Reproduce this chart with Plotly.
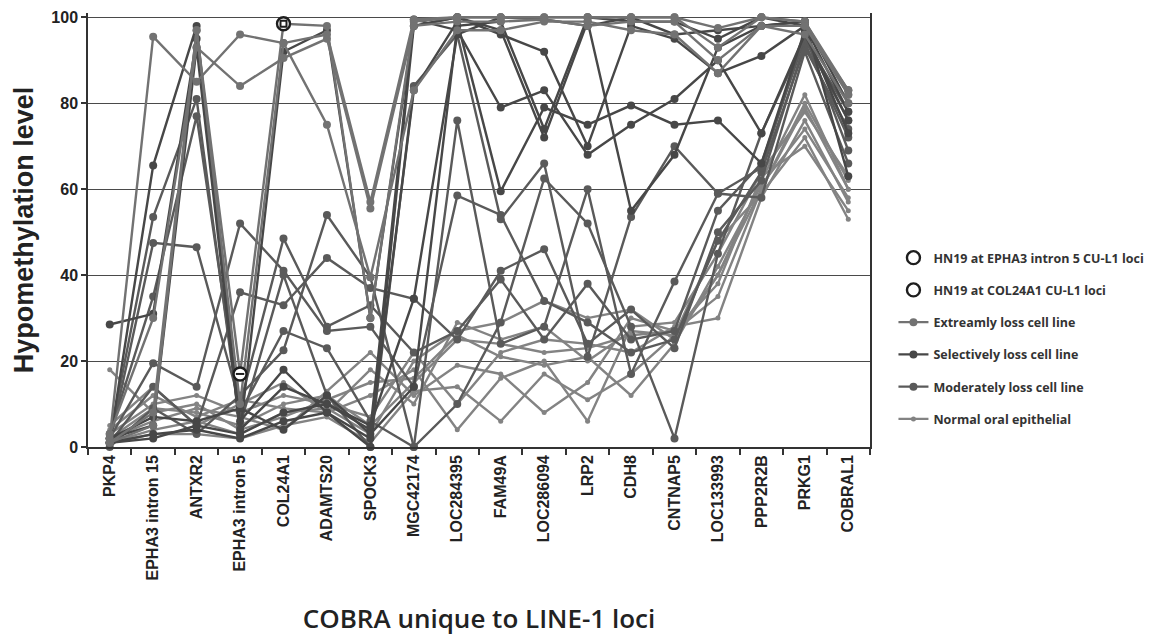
import plotly.graph_objects as go

# COBRA loci (x categories)
loci = ["PKP4", "EPHA3 intron 15", "ANTXR2", "EPHA3 intron 5", "COL24A1",
        "ADAMTS20", "SPOCK3", "MGC42174", "LOC284395", "FAM49A", "LOC286094",
        "LRP2", "CDH8", "CNTNAP5", "LOC133993", "PPP2R2B", "PRKG1", "COBRAL1"]

y_ticks = [0, 20, 40, 60, 80, 100]

# Hypomethylation levels per sample, one value per locus
hn19 = [1, 5, 97, 17, 98.5, 98, 30, 99, 100, 100, 100, 100, 100, 100, 97.5, 100, 99, 82]
ext_a = [2, 95.5, 85, 96, 94, 96, 57, 99.5, 100, 100, 100, 100, 100, 100, 93, 100, 99, 83]
ext_b = [3, 30, 93, 84, 90.5, 95, 55.5, 98, 99, 99, 99.5, 98, 99, 99, 90, 98, 98, 82]
ext_c = [1, 8, 97, 10, 94, 75, 39.5, 83, 97, 97, 99, 99, 97, 96, 87, 98, 96, 80]

sel_a = [28.5, 31, 95, 6, 18, 8, 2, 83, 99, 59.5, 79, 75, 79.5, 75, 76, 66, 97, 73]
sel_b = [1, 65.5, 98, 3, 92, 97, 30, 98, 100, 96, 92, 70, 98, 95, 87, 91, 98, 78]
sel_c = [2, 5, 93, 4, 14, 10, 4, 99.5, 97, 79, 83, 68, 75, 81, 90, 73, 96, 76]
sel_d = [1, 3, 4, 2, 6, 8, 0, 98, 100, 97, 72, 99, 55, 68, 93, 98, 99, 80]
sel_e = [2, 7, 6, 9, 4, 12, 3, 14, 98, 99, 74, 100, 99, 99, 95, 100, 98, 83]
sel_f = [1, 2, 5, 3, 8, 10, 5, 34.5, 96, 100, 99.5, 98, 100, 96, 97, 98, 99, 63]

mod_a = [1, 47.5, 46.5, 10, 48.5, 28, 33, 22, 27, 39, 25, 38, 25, 27, 55, 66, 95, 78]
mod_b = [2, 19.5, 14, 52, 41, 27, 28, 14, 58.5, 54, 34, 29, 22, 25, 48, 64, 93, 74]
mod_c = [1, 14, 5, 36, 33, 44, 37, 34.5, 25, 41, 46, 24, 32, 23, 50, 62, 94, 72]
mod_d = [3, 35, 77, 8, 27, 23, 6, 0, 76, 24, 28, 60, 17, 38.5, 59, 65, 96, 69]
mod_e = [0, 9, 3, 12, 22.5, 54, 39.5, 0, 10, 29, 62.5, 52, 28, 2, 45, 73, 95, 76]
mod_f = [2, 53.5, 81, 5, 40, 12, 0, 84, 96, 53, 66, 21, 53.5, 70, 59, 58, 92, 66]

nor_a = [2, 9, 8, 5, 10, 12, 5, 15, 25, 24, 22, 23, 26, 27, 35, 60, 80, 62]
nor_b = [1, 4, 6, 3, 8, 9, 3, 20, 27, 29, 34, 30, 32, 25, 40, 62, 82, 60]
nor_c = [3, 10, 12, 8, 12, 10, 7, 22, 10, 22, 25, 24, 22, 28, 30, 58, 76, 57]
nor_d = [5, 14, 5, 10, 15, 8, 12, 18, 4, 16, 20, 6, 28, 29, 45, 64, 78, 63]
nor_e = [1, 3, 3, 2, 5, 7, 1, 13, 14, 6, 17, 11, 17, 26, 48, 59, 72, 53]
nor_f = [18, 8, 10, 4, 7, 11, 15, 16, 26, 21, 19, 21, 12, 24, 42, 61, 74, 58]
nor_g = [2, 6, 9, 7, 4, 13, 22, 12, 19, 17, 8, 15, 30, 27, 38, 63, 70, 55]
nor_h = [4, 12, 7, 11, 9, 8, 18, 10, 29, 25, 28, 20, 27, 26, 40, 60, 79, 60]

groups = [
    # (legend label, series, line colour, marker size, legend rank)
    ("Normal oral epithelial", [nor_a, nor_b, nor_c, nor_d, nor_e, nor_f, nor_g, nor_h], "#838383", 5, 6),
    ("Moderately loss cell line", [mod_a, mod_b, mod_c, mod_d, mod_e, mod_f], "#5a5a5a", 8, 5),
    ("Selectively loss cell line", [sel_a, sel_b, sel_c, sel_d, sel_e, sel_f], "#474747", 8, 4),
    ("Extreamly loss cell line", [hn19, ext_a, ext_b, ext_c], "#727272", 8, 3),
]

fig = go.Figure()

for label, series, color, msize, rank in groups:
    for i, vals in enumerate(series):
        fig.add_trace(go.Scatter(
            x=loci, y=vals, mode="lines+markers",
            name=label, legendgroup=label, showlegend=(i == 0), legendrank=rank,
            line=dict(color=color, width=2.4),
            marker=dict(color=color, size=msize, symbol="circle"),
            cliponaxis=False,
        ))

# HN19 highlighted at two loci
i_epha3 = loci.index("EPHA3 intron 5")
i_col24 = loci.index("COL24A1")
highlights = [
    ("HN19 at EPHA3 intron 5 CU-L1 loci", i_epha3, "line-ew", 1),
    ("HN19 at COL24A1 CU-L1 loci", i_col24, "square-open", 2),
]
for label, idx, inner, rank in highlights:
    fig.add_trace(go.Scatter(
        x=[loci[idx]], y=[hn19[idx]], mode="markers", name=label,
        legendgroup=label, legendrank=rank,
        marker=dict(color="white", size=13, symbol="circle",
                    line=dict(color="#1e1e1e", width=2.4)),
        cliponaxis=False,
    ))
    fig.add_trace(go.Scatter(
        x=[loci[idx]], y=[hn19[idx]], mode="markers", showlegend=False,
        marker=dict(color="#1e1e1e", size=6, symbol=inner,
                    line=dict(color="#1e1e1e", width=2)),
        cliponaxis=False,
    ))

fig.update_layout(
    width=1164, height=637,
    margin=dict(l=88, r=294, t=13, b=190),
    plot_bgcolor="white", paper_bgcolor="white",
    font=dict(family="Liberation Sans, Arial, sans-serif", color="#222"),
    legend=dict(
        x=1.03, xanchor="left", y=0.47, yanchor="top",
        traceorder="grouped", tracegroupgap=13,
        font=dict(family="Open Sans", size=12.5, color="#333", weight=700),
        bgcolor="rgba(0,0,0,0)",
    ),
)

fig.update_xaxes(
    type="category", categoryorder="array", categoryarray=loci,
    range=[-0.5, len(loci) - 0.5],
    tickangle=-90, tickson="boundaries", ticks="outside", ticklen=6,
    tickcolor="#333", tickwidth=1.5,
    tickfont=dict(family="Liberation Sans", size=16, color="#222", weight=700),
    showline=True, linecolor="#333", linewidth=1.5, showgrid=False,
    automargin=False,
    title=dict(text="COBRA unique to LINE-1 loci", standoff=30,
               font=dict(family="Open Sans", size=26, color="#222", weight=600)),
)

fig.update_yaxes(
    range=[0, 101], tickvals=y_ticks, ticks="outside", ticklen=5,
    tickcolor="#333", tickwidth=1.5,
    tickfont=dict(family="Liberation Sans", size=16, color="#222", weight=700),
    showgrid=True, gridcolor="#4a4a4a", gridwidth=1.3, zeroline=False,
    showline=True, mirror=True, linecolor="#333", linewidth=1.5,
    automargin=False,
    title=dict(text="Hypomethylation level", standoff=10,
               font=dict(family="Liberation Sans", size=27, color="#222", weight=700)),
)

fig.write_html("out.html")
